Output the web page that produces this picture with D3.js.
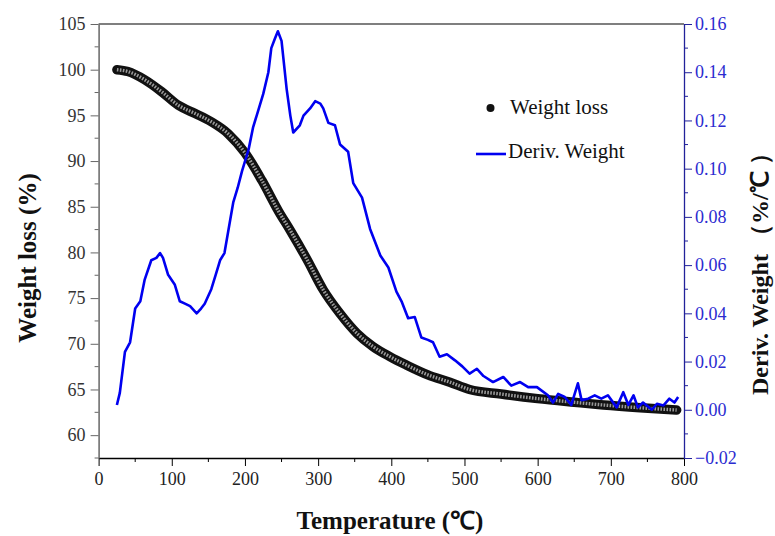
<!DOCTYPE html>
<html><head><meta charset="utf-8">
<script src="https://cdn.jsdelivr.net/npm/d3@7"></script>
<style>body{margin:0;background:#fff}svg{display:block}</style>
</head><body>
<svg id="c" width="775" height="536"></svg>
<script>
// ---- data ----
const weightTemp = [25,40,63,86,109,132,154,177,200,223,246,262,285,307,330,353,375,398,420,450,480,507,550,600,650,690,740,790];
const weightLoss = [100.0,99.8,98.9,97.6,96.1,95.2,94.3,93.0,90.9,87.9,84.5,82.4,79.2,75.9,73.3,71.15,69.7,68.6,67.7,66.6,65.8,65.0,64.5,64.0,63.6,63.3,63.0,62.75];
const derivTemp = [25,29,36,43,50,57,63,72,79,84,88,95,104,111,118,125,134,140,145,154,160,166,172,180,184,190,196,205,211,218,225,232,236,241,245,250,257,262,266,275,280,289,296,303,307,314,323,330,341,348,360,371,385,396,407,414,423,432,441,450,457,466,476,487,497,507,517,526,539,553,564,576,587,599,614,621,628,637,646,655,660,669,678,687,696,708,717,724,731,737,744,756,763,772,780,787,792];
const derivWeight = [0.002,0.007,0.024,0.028,0.042,0.045,0.054,0.062,0.063,0.065,0.063,0.056,0.052,0.045,0.044,0.043,0.040,0.042,0.044,0.050,0.056,0.062,0.065,0.079,0.086,0.092,0.099,0.108,0.117,0.124,0.131,0.140,0.150,0.154,0.157,0.153,0.133,0.122,0.115,0.118,0.122,0.125,0.128,0.127,0.125,0.119,0.118,0.110,0.107,0.094,0.088,0.075,0.064,0.059,0.049,0.045,0.038,0.0385,0.030,0.029,0.028,0.022,0.023,0.0205,0.018,0.015,0.017,0.014,0.0115,0.0136,0.010,0.0115,0.0094,0.0094,0.006,0.003,0.0066,0.0053,0.002,0.011,0.004,0.0046,0.006,0.0046,0.006,0.001,0.0073,0.002,0.006,0.001,0.003,0.000,0.0025,0.0018,0.0046,0.003,0.0053];
const xTicks = [0,100,200,300,400,500,600,700,800];
const yLeftTicks = [60,65,70,75,80,85,90,95,100,105];
const yRightTicks = [-0.02,0,0.02,0.04,0.06,0.08,0.10,0.12,0.14,0.16];
const labels = {x:"Temperature (℃)", yl:"Weight loss (%)", yr:"Deriv. Weight （%/℃ ）", s1:"Weight loss", s2:"Deriv. Weight"};

// ---- layout ----
const L=98.6, R=684, T=24, B=458;
const svg = d3.select("#c");
const x = d3.scaleLinear().domain([0,800]).range([L,R]);
const yl = d3.scaleLinear().domain([57.5,105]).range([B,T]);
const yr = d3.scaleLinear().domain([-0.02,0.16]).range([B,T]);
const font = "'Liberation Serif','Times New Roman',serif";

// top border
svg.append("line").attr("x1",L).attr("x2",R).attr("y1",T).attr("y2",T).attr("stroke","#000").attr("stroke-width",1.2);

const xMinor = d3.range(50,800,100);
const ylMinor = d3.range(57.5,105,5);
const yrMinor = d3.range(-0.01,0.16,0.02);

// bottom axis
const gx = svg.append("g").attr("transform",`translate(0,${B})`)
  .call(d3.axisBottom(x).tickValues(xTicks).tickSize(8).tickSizeOuter(0).tickFormat(d3.format("d")));
gx.attr("font-family",null).attr("font-size",null);
gx.append("g").selectAll("line").data(xMinor).join("line")
  .attr("x1",d=>x(d)).attr("x2",d=>x(d)).attr("y1",0).attr("y2",4).attr("stroke","#000");
gx.select(".domain").attr("stroke","#000").attr("stroke-width",1.3);
gx.selectAll(".tick line").attr("stroke","#000");
gx.selectAll(".tick text").style("font-family",font).style("font-size","18px").attr("fill","#222").attr("dy","0.9em");

// left axis
const gl = svg.append("g").attr("transform",`translate(${L},0)`)
  .call(d3.axisLeft(yl).tickValues(yLeftTicks).tickSize(8).tickSizeOuter(0).tickFormat(d3.format("d")));
gl.attr("font-family",null).attr("font-size",null);
gl.append("g").selectAll("line").data(ylMinor).join("line")
  .attr("y1",d=>yl(d)).attr("y2",d=>yl(d)).attr("x1",0).attr("x2",-4).attr("stroke","#666");
gl.select(".domain").attr("stroke","#666").attr("stroke-width",1.5);
gl.selectAll(".tick line").attr("stroke","#666");
gl.selectAll(".tick text").style("font-family",font).style("font-size","18px").attr("fill","#333").attr("x",-13);

// right axis
const gr = svg.append("g").attr("transform",`translate(${R},0)`)
  .call(d3.axisRight(yr).tickValues(yRightTicks).tickSize(8).tickSizeOuter(0).tickFormat(d3.format(".2f")));
gr.attr("font-family",null).attr("font-size",null);
gr.append("g").selectAll("line").data(yrMinor).join("line")
  .attr("y1",d=>yr(d)).attr("y2",d=>yr(d)).attr("x1",0).attr("x2",4).attr("stroke","#22229a");
gr.select(".domain").attr("stroke","#22229a").attr("stroke-width",1.3);
gr.selectAll(".tick line").attr("stroke","#22229a");
gr.selectAll(".tick text").style("font-family",font).style("font-size","18px").attr("fill","#2b2bd0").attr("x",11);

// weight loss band (dense circle markers look)
const wData = weightTemp.map((t,i)=>[t,weightLoss[i]]);
const wLine = d3.line().x(d=>x(d[0])).y(d=>yl(d[1])).curve(d3.curveMonotoneX);
svg.append("path").attr("d",wLine(wData)).attr("fill","none").attr("stroke","#111").attr("stroke-width",9.5).attr("stroke-linecap","round");
svg.append("path").attr("d",wLine(wData)).attr("fill","none").attr("stroke","#9a9a9a").attr("stroke-width",3.4).attr("stroke-dasharray","1.6 1.4");

// derivative line
const dData = derivTemp.map((t,i)=>[t,derivWeight[i]]);
const dLine = d3.line().x(d=>x(d[0])).y(d=>yr(d[1]));
svg.append("path").attr("d",dLine(dData)).attr("fill","none").attr("stroke","#0000f0").attr("stroke-width",2.6).attr("stroke-linejoin","round");

// legend
svg.append("circle").attr("cx",490.5).attr("cy",108).attr("r",4).attr("fill","#111");
svg.append("text").attr("x",510).attr("y",114).style("font-family",font).style("font-size","21px").attr("fill","#111").text(labels.s1);
svg.append("line").attr("x1",476).attr("x2",506).attr("y1",154).attr("y2",154).attr("stroke","#0000f0").attr("stroke-width",2.6);
svg.append("text").attr("x",508).attr("y",158).style("font-family",font).style("font-size","21px").attr("fill","#111").text(labels.s2);

// axis titles
svg.append("text").attr("x",390).attr("y",529).attr("text-anchor","middle").style("font-family",font).style("font-size","25px").attr("font-weight","bold").attr("fill","#111").text(labels.x);
svg.append("text").attr("transform","translate(27,258) rotate(-90)").attr("text-anchor","middle").attr("dominant-baseline","central").style("font-family",font).style("font-size","25px").attr("font-weight","bold").attr("fill","#111").text(labels.yl);
svg.append("text").attr("transform","translate(760,395) rotate(-90)").attr("text-anchor","start").attr("dominant-baseline","central").style("white-space","pre").style("font-family",font).style("font-size","24px").attr("font-weight","bold").attr("fill","#111").text(labels.yr);
</script>
</body></html>
